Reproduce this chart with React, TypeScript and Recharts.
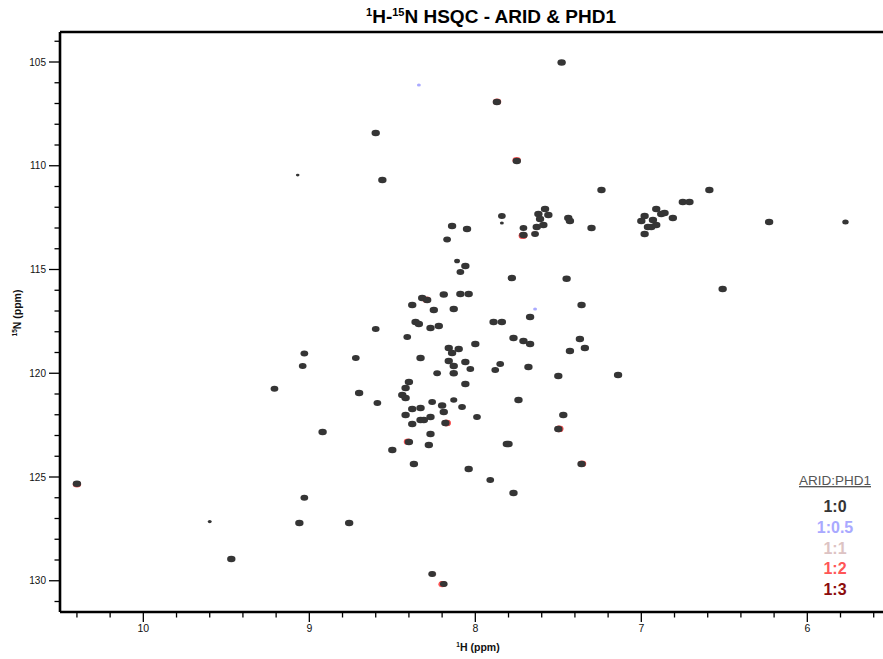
import React from 'react';
import { ScatterChart, Scatter, XAxis, YAxis, ReferenceLine } from 'recharts';

// peaks: [1H ppm, 15N ppm, relative intensity]
const peaks10: number[][] = [
  [10.40, 125.32, 1], [9.60, 127.15, 0.3], [9.47, 128.95, 1], [9.21, 120.75, 0.9], [9.07, 110.45, 0.25],
  [9.06, 127.22, 1], [9.03, 126.0, 0.9], [9.04, 119.65, 0.9], [9.03, 119.05, 0.9], [8.92, 122.83, 1],
  [8.76, 127.22, 1], [8.72, 119.27, 0.9], [8.70, 120.95, 1], [8.60, 108.42, 1], [8.60, 117.87, 0.9],
  [8.59, 121.43, 0.9], [8.56, 110.69, 1], [8.50, 123.70, 1], [8.44, 121.05, 1], [8.42, 121.19, 1],
  [8.42, 120.71, 1], [8.40, 120.42, 1], [8.41, 118.25, 0.9], [8.42, 122.01, 1], [8.38, 121.72, 1],
  [8.38, 122.45, 1], [8.40, 123.31, 1], [8.37, 124.37, 1], [8.38, 116.71, 1], [8.36, 117.53, 1],
  [8.34, 117.63, 1], [8.33, 119.27, 1], [8.33, 121.67, 1], [8.33, 122.25, 1], [8.31, 122.25, 1],
  [8.32, 116.37, 1], [8.29, 116.47, 1], [8.27, 117.82, 1], [8.27, 122.11, 1], [8.27, 122.93, 1],
  [8.28, 123.46, 1], [8.26, 121.39, 0.9], [8.26, 129.67, 0.9], [8.25, 116.95, 1], [8.22, 117.72, 1],
  [8.23, 120.0, 0.9], [8.20, 121.55, 1], [8.19, 121.87, 1], [8.18, 122.40, 1], [8.19, 116.20, 1],
  [8.19, 130.16, 0.9], [8.17, 113.55, 0.9], [8.16, 118.78, 1], [8.16, 119.41, 1], [8.14, 119.02, 1],
  [8.14, 112.90, 1], [8.13, 116.90, 1], [8.13, 119.65, 1], [8.13, 120.0, 1], [8.13, 121.29, 0.8],
  [8.11, 114.59, 0.6], [8.10, 118.83, 1], [8.09, 115.12, 0.9], [8.09, 116.18, 1], [8.08, 121.63, 0.9],
  [8.06, 114.83, 1], [8.06, 119.46, 1], [8.06, 120.52, 1], [8.05, 113.05, 1], [8.04, 116.18, 1],
  [8.04, 124.61, 1], [8.03, 119.80, 0.9], [8.00, 118.59, 1], [7.99, 122.11, 0.9], [7.91, 125.14, 0.9],
  [7.89, 117.53, 1], [7.88, 119.84, 0.9], [7.85, 119.55, 0.9], [7.84, 117.53, 1], [7.84, 112.42, 0.9],
  [7.84, 112.76, 0.3], [7.87, 106.93, 1], [7.81, 123.41, 1], [7.80, 123.41, 1], [7.78, 115.41, 1],
  [7.77, 118.30, 1], [7.77, 125.77, 1], [7.75, 109.77, 1], [7.74, 121.29, 1], [7.71, 118.45, 1],
  [7.71, 113.0, 0.9], [7.71, 113.34, 1], [7.68, 119.70, 1], [7.67, 117.29, 1], [7.67, 118.59, 1],
  [7.64, 113.29, 0.9], [7.63, 112.95, 1], [7.62, 112.33, 1], [7.61, 112.57, 1], [7.59, 112.86, 1],
  [7.58, 112.08, 1], [7.56, 112.37, 1], [7.50, 120.13, 1], [7.50, 122.69, 1], [7.48, 105.02, 1],
  [7.47, 122.01, 1], [7.45, 115.44, 1], [7.44, 112.52, 1], [7.43, 112.66, 1], [7.43, 118.93, 1],
  [7.37, 118.35, 1], [7.36, 124.37, 1], [7.36, 116.71, 1], [7.34, 118.78, 1], [7.30, 113.0, 1],
  [7.24, 111.17, 1], [7.14, 120.08, 1], [7.00, 112.66, 1], [6.98, 112.42, 1], [6.98, 113.29, 1],
  [6.96, 112.95, 1], [6.94, 112.95, 1], [6.93, 112.61, 1], [6.91, 112.08, 1], [6.91, 112.86, 1],
  [6.88, 112.33, 1], [6.86, 112.28, 1], [6.81, 112.52, 1], [6.75, 111.75, 1], [6.71, 111.75, 1],
  [6.59, 111.17, 1], [6.51, 115.94, 1], [6.23, 112.71, 1], [5.77, 112.71, 0.7],
];
const peaks105: number[][] = [[8.34, 106.11, 0.3], [7.64, 116.9, 0.3]];
const peaks11: number[][] = [[8.258, 129.67, 0.9], [7.642, 113.28, 0.9], [8.177, 122.40, 1]];
const peaks12: number[][] = [
  [10.40, 125.35, 1], [7.714, 113.37, 1], [8.172, 122.40, 1], [8.199, 130.17, 0.9], [7.494, 122.68, 1],
  [7.751, 109.74, 1], [7.357, 124.36, 1], [8.406, 123.30, 1], [7.869, 106.91, 1], [8.293, 116.46, 1],
];
const peaks13: number[][] = [[7.712, 113.36, 1], [8.175, 122.40, 1], [8.196, 130.16, 0.9], [7.496, 122.69, 1]];

const ratios = ['1:0', '1:0.5', '1:1', '1:2', '1:3'];
const colors = ['#353535', '#a9a9ff', '#ddc3c3', '#ff5656', '#8c0c0c'];

const hTicks = [10.4, 10.2, 10, 9.8, 9.6, 9.4, 9.2, 9, 8.8, 8.6, 8.4, 8.2, 8, 7.8, 7.6, 7.4, 7.2, 7, 6.8, 6.6, 6.4, 6.2, 6, 5.8, 5.6];
const hLabels = [10, 9, 8, 7, 6];
const nTicks = [104, 105, 106, 107, 108, 109, 110, 111, 112, 113, 114, 115, 116, 117, 118, 119, 120, 121, 122, 123, 124, 125, 126, 127, 128, 129, 130, 131];
const nLabels = [105, 110, 115, 120, 125, 130];

const W = 883;
const H = 659;
const PLOT_LEFT = 60;
const PLOT_TOP = 32;
const PLOT_BOTTOM = 612;
const FONT = 'Liberation Sans, Arial, Helvetica, sans-serif';

const toPoints = (rows: number[][]) => rows.map(([h, n, i]) => ({ h, n, i }));

const peakShape = (color: string) => (props: any) => {
  const { cx, cy, payload } = props;
  const i = payload.i;
  return <ellipse cx={cx} cy={cy} rx={1 + 3.2 * i} ry={0.8 + 2.45 * i} fill={color} />;
};

const isLabel = (list: number[], v: number) => list.some(l => Math.abs(l - v) < 1e-6);

const HTick = (props: any) => {
  const { x, payload } = props;
  const major = isLabel(hLabels, payload.value);
  return (
    <g>
      <line x1={x} x2={x} y1={PLOT_BOTTOM} y2={PLOT_BOTTOM + (major ? 10 : 5.5)} stroke="#000" strokeWidth={1.3} />
      {major && (
        <text x={x} y={632} textAnchor="middle" fontSize={10.5} fontFamily={FONT} fill="#111">
          {payload.value}
        </text>
      )}
    </g>
  );
};

const NTick = (props: any) => {
  const { y, payload } = props;
  const major = isLabel(nLabels, payload.value);
  return (
    <g>
      <line x1={PLOT_LEFT - (major ? 11 : 5.5)} x2={PLOT_LEFT} y1={y} y2={y} stroke="#000" strokeWidth={1.3} />
      {major && (
        <text x={46} y={y + 3.6} textAnchor="end" fontSize={10} fontFamily={FONT} fill="#111">
          {payload.value}
        </text>
      )}
    </g>
  );
};

const series = [
  { name: ratios[1], data: peaks105, color: colors[1] },
  { name: ratios[2], data: peaks11, color: colors[2] },
  { name: ratios[4], data: peaks13, color: colors[4] },
  { name: ratios[3], data: peaks12, color: colors[3] },
  { name: ratios[0], data: peaks10, color: colors[0] },
];

export default function App() {
  const xDomain = [5.544, 10.502];
  const yDomain = [103.554, 131.506];
  return (
    <div style={{ position: 'absolute', left: 0, top: 0, width: W, height: H, background: '#fff' }}>
      <ScatterChart width={W} height={H} margin={{ top: PLOT_TOP, right: 0, bottom: 0, left: 0 }}>
        <XAxis
          type="number"
          dataKey="h"
          domain={xDomain}
          reversed
          allowDataOverflow
          ticks={hTicks}
          interval={0}
          tick={<HTick />}
          tickLine={false}
          height={H - PLOT_BOTTOM}
          axisLine={{ stroke: '#000', strokeWidth: 2.6 }}
        />
        <YAxis
          type="number"
          dataKey="n"
          domain={yDomain}
          reversed
          allowDataOverflow
          ticks={nTicks}
          interval={0}
          tick={<NTick />}
          tickLine={false}
          width={PLOT_LEFT}
          axisLine={{ stroke: '#000', strokeWidth: 2.6 }}
        />
        <ReferenceLine y={yDomain[0]} stroke="#000" strokeWidth={2.6} />
        {series.map(s => (
          <Scatter
            key={s.name}
            name={s.name}
            data={toPoints(s.data)}
            shape={peakShape(s.color)}
            isAnimationActive={false}
          />
        ))}
      </ScatterChart>
      <svg width={W} height={H} style={{ position: 'absolute', left: 0, top: 0, pointerEvents: 'none' }}>
        <text x={491} y={23} textAnchor="middle" fontSize={19} fontWeight="bold" fontFamily={FONT} fill="#000">
          <tspan fontSize={11} dy={-7}>1</tspan>
          <tspan dy={7}>H-</tspan>
          <tspan fontSize={11} dy={-7}>15</tspan>
          <tspan dy={7}>N HSQC - ARID &amp; PHD1</tspan>
        </text>
        <text x={478} y={651} textAnchor="middle" fontSize={10.5} fontWeight="bold" fontFamily={FONT} fill="#111">
          <tspan fontSize={6.5} dy={-4}>1</tspan>
          <tspan dy={4}>H (ppm)</tspan>
        </text>
        <text
          x={21}
          y={313}
          transform="rotate(-90, 21, 313)"
          textAnchor="middle"
          fontSize={10.5}
          fontWeight="bold"
          fontFamily={FONT}
          fill="#111"
        >
          <tspan fontSize={6.5} dy={-4}>15</tspan>
          <tspan dy={4}>N (ppm)</tspan>
        </text>
        <text x={835} y={485} textAnchor="middle" fontSize={13.5} fontFamily={FONT} fill="#555" textDecoration="underline">
          ARID:PHD1
        </text>
        {ratios.map((r, k) => (
          <text key={r} x={835} y={512 + k * 20.75} textAnchor="middle" fontSize={16} fontWeight="bold" fontFamily={FONT} fill={colors[k]}>
            {r}
          </text>
        ))}
      </svg>
    </div>
  );
}
